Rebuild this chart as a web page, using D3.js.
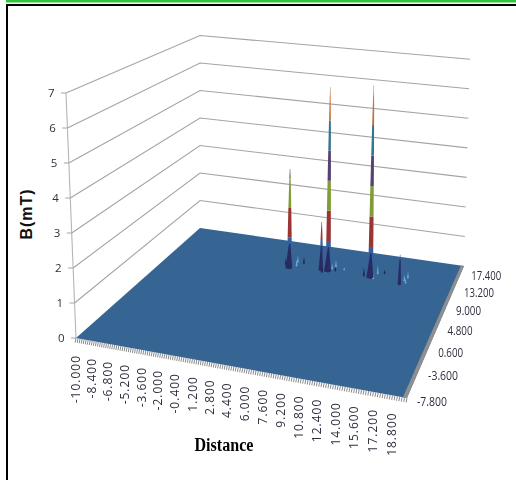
<!DOCTYPE html>
<html><head><meta charset="utf-8">
<script src="https://cdn.jsdelivr.net/npm/d3@7"></script>
<style>html,body{margin:0;padding:0;background:#fff}svg{display:block}</style>
</head><body><div id="chart"></div>
<script>
// ---- data ----
const yLabel = "B(mT)";
const xLabel = "Distance";
const zTicks = [0,1,2,3,4,5,6,7];
const distanceTicks = ["-10.000","-8.400","-6.800","-5.200","-3.600","-2.000","-0.400","1.200","2.800","4.400","6.000","7.600","9.200","10.800","12.400","14.000","15.600","17.200","18.800"];
const depthTicks = ["-7.800","-3.600","0.600","4.800","9.000","13.200","17.400"];
const distanceDomain = [-10, 20];
const depthDomain = [-7.8, 19];
const bandEdges = [0,1,2,3,4,5,6,7];
const bandColors = ["#35609f","#9a3534","#7f9c35","#55436f","#31778f","#c4703a","#7f93aa"];
const floorColor = "#366594";
// the peaks: distance, depth, B
const peakDistance = [2.95, 6.2, 6.95, 11.45, 14.6];
const peakDepth    = [12.4, 13.0, 13.0, 13.0, 12.5];
const peakB        = [3.3, 1.6, 6.1, 6.3, 0.95];
// small dark bumps around the peaks
const bumpDistance = [2.3, 3.98, 6.4, 7.6, 10.7, 12.57];
const bumpDepth    = [13.1, 14.03, 12.6, 13.4, 13.2, 14.43];
const bumpB        = [0.22, 0.2, 0.2, 0.15, 0.28, 0.12];
// pale blue flecks near the peaks
const fleckDistance = [3.3, 3.45, 7.16, 7.36, 8.4, 11.9, 11.75, 14.86, 15.07, 15.1];
const fleckDepth    = [14.06, 13.2, 13.7, 14.4, 13.9, 14.2, 12.92, 13.5, 14.2, 13.0];
const fleckB        = [0.22, 0.2, 0.18, 0.22, 0.08, 0.28, 0.14, 0.18, 0.22, 0.14];

// ---- scene ----
const W = 516, H = 480;
const svg = d3.select("#chart").append("svg").attr("width",W).attr("height",H);
const root = svg.append("g");

const uScale = d3.scaleLinear().domain(distanceDomain).range([0,1]);
const vScale = d3.scaleLinear().domain(depthDomain).range([0,1]);

// perspective of the floor (fitted to the frame of the plot)
const A = 295.1, B = 178.6, C = 76, D = 24.94, E = -47.8, F = 338, G = -0.0881, K = 0.2728;
const unitAtFront = 35;
const lean = (u,v) => { // sideways drift of a vertical per unit of B
  const front = -1.43 + u*(0.86+1.43), back = 0 + u*0.86;
  return front*(1-v) + back*v;
};
function project(u,v,z){
  const w = G*u + K*v + 1;
  const x = (A*u + B*v + C)/w, y = (D*u + E*v + F)/w;
  return [x + z*lean(u,v), y - z*unitAtFront/w];
}
const P = (dist,depth,z) => project(uScale(dist), vScale(depth), z||0);
const line = d3.line();

const plot = root.append("g").style("filter","blur(0.4px)");

// walls' gridlines
const zMax = zTicks[zTicks.length-1];
zTicks.slice(1).forEach(z=>{
  plot.append("path").attr("d", line([project(0,0,z),project(0,1,z),project(1,1,z)]))
    .attr("fill","none").attr("stroke","#a4a4a4").attr("stroke-width",1.1);
});
// left z-axis with ticks
plot.append("path").attr("d", line([project(0,0,0),project(0,0,zMax)]))
  .attr("fill","none").attr("stroke","#b5b5b5").attr("stroke-width",1.1);
zTicks.forEach(z=>{
  const p = project(0,0,z);
  plot.append("path").attr("d", line([[p[0]-5,p[1]],p])).attr("stroke","#a4a4a4").attr("stroke-width",1);
});

// ticks along the front edge, one per 0.2 of distance
const frontTicks = d3.range(distanceDomain[0], distanceDomain[1]+0.001, 0.2);
plot.append("g").selectAll("path").data(frontTicks).join("path")
  .attr("d", d=>{ const p=project(uScale(d),0,0); return line([p,[p[0]-0.8,p[1]+4.5]]); })
  .attr("stroke","#8a8a8a").attr("stroke-width",1);

// floor
plot.append("path").attr("d", line([project(0,0,0),project(1,0,0),project(1,1,0),project(0,1,0)])+"Z")
  .attr("fill",floorColor).attr("stroke","none");
// grey side of the floor slab
plot.append("path").attr("d", line([project(0.989,0,0),project(1,0,0),project(1,1,0),project(0.989,1,0)])+"Z")
  .attr("fill","#8f8f8f");

// bumps
const spikePath = (d,h,base) => {
  const b = P(d.dist,d.depth,0), t = P(d.dist,d.depth,h);
  return line([[b[0]-base,b[1]],[t[0],t[1]],[b[0]+base,b[1]],[b[0],b[1]+1.2]])+"Z";
};
const bumps = bumpB.map((b,i)=>({dist:bumpDistance[i],depth:bumpDepth[i],b}));
plot.append("g").selectAll("path").data(bumps).join("path")
  .attr("d",d=>spikePath(d,d.b,1.1)).attr("fill","#222c58");
const flecks = fleckB.map((b,i)=>({dist:fleckDistance[i],depth:fleckDepth[i],b}));
plot.append("g").selectAll("path").data(flecks).join("path")
  .attr("d",d=>spikePath(d,d.b,0.9)).attr("fill","#6ea6e0");

// peaks: one piece per colour band, narrowing upward
const peaks = peakB.map((b,i)=>({dist:peakDistance[i],depth:peakDepth[i],b}));
const halfWidth = (z,h) => {
  const t = Math.min(1,z/h);
  return Math.max(0.25, Math.min(1,h/2.2)*2.5*Math.pow(1-t,0.6));
};
peaks.forEach(pk=>{
  const g = plot.append("g");
  bandEdges.slice(0,-1).forEach((lo,i)=>{
    const hi = bandEdges[i+1];
    if (lo>=pk.b) return;
    const top = Math.min(hi,pk.b);
    const steps = d3.range(lo, top+1e-6, (top-lo)/6);
    const left = steps.map(z=>{const p=P(pk.dist,pk.depth,z);return [p[0]-halfWidth(z,pk.b),p[1]];});
    const right = steps.map(z=>{const p=P(pk.dist,pk.depth,z);return [p[0]+halfWidth(z,pk.b),p[1]];}).reverse();
    g.append("path").attr("d", line(left.concat(right))+"Z").attr("fill",bandColors[i]);
  });
  // flared dark foot of each peak
  const foot = Math.min(pk.b*0.85,0.8), spread = Math.min(1,pk.b/3);
  const b0 = P(pk.dist,pk.depth,0), tf = P(pk.dist,pk.depth,foot);
  g.append("path").attr("d", line([[b0[0]-1-3.2*spread,b0[1]+0.3],[tf[0]-0.6,tf[1]],[tf[0]+0.6,tf[1]],[b0[0]+0.8+2*spread,b0[1]+0.3],[b0[0],b0[1]+1.5]])+"Z")
    .attr("fill","#262c62");
});

// tick labels
const labelFont = "'Open Sans','Liberation Sans',sans-serif";
const txt = root.append("g").attr("font-family",labelFont).attr("fill","#2f2f3f").style("filter","blur(0.3px)");
zTicks.forEach(z=>{
  const p = project(0,0,z);
  txt.append("text").attr("x",p[0]-11.5).attr("y",p[1]+4).attr("text-anchor","end")
    .attr("font-size",11.5).text(z);
});
distanceTicks.forEach(s=>{
  const p = project(uScale(+s),0,0);
  txt.append("text").attr("transform",`translate(${p[0]+4},${p[1]+17}) rotate(-90)`)
    .attr("text-anchor","end").attr("font-size",12).attr("letter-spacing",1).text(s);
});
depthTicks.forEach(s=>{
  const p = project(1,vScale(+s),0);
  txt.append("text").attr("x",p[0]+10).attr("y",p[1]+8)
    .attr("font-size",13).attr("textLength",s.length*5).attr("lengthAdjust","spacingAndGlyphs").text(s);
});

// axis titles
root.append("text").attr("transform","translate(32,214) rotate(-90)")
  .attr("text-anchor","middle").attr("font-family","'Liberation Sans',sans-serif")
  .attr("font-weight","bold").attr("font-size",16).attr("letter-spacing",1).attr("fill","#111").text(yLabel);
root.append("text").attr("x",224).attr("y",451).attr("text-anchor","middle")
  .attr("font-family","'Liberation Serif',serif").attr("font-weight","bold")
  .attr("font-size",18).attr("fill","#000")
  .attr("textLength",59).attr("lengthAdjust","spacingAndGlyphs").text(xLabel);

// page frame
svg.append("rect").attr("x",6).attr("y",0).attr("width",W-6).attr("height",2.5).attr("fill","#2fc43a");
svg.append("rect").attr("x",6).attr("y",4).attr("width",W-6).attr("height",2).attr("fill","#000");
svg.append("rect").attr("x",6).attr("y",4).attr("width",2).attr("height",H-4).attr("fill","#000");
</script>
</body></html>
